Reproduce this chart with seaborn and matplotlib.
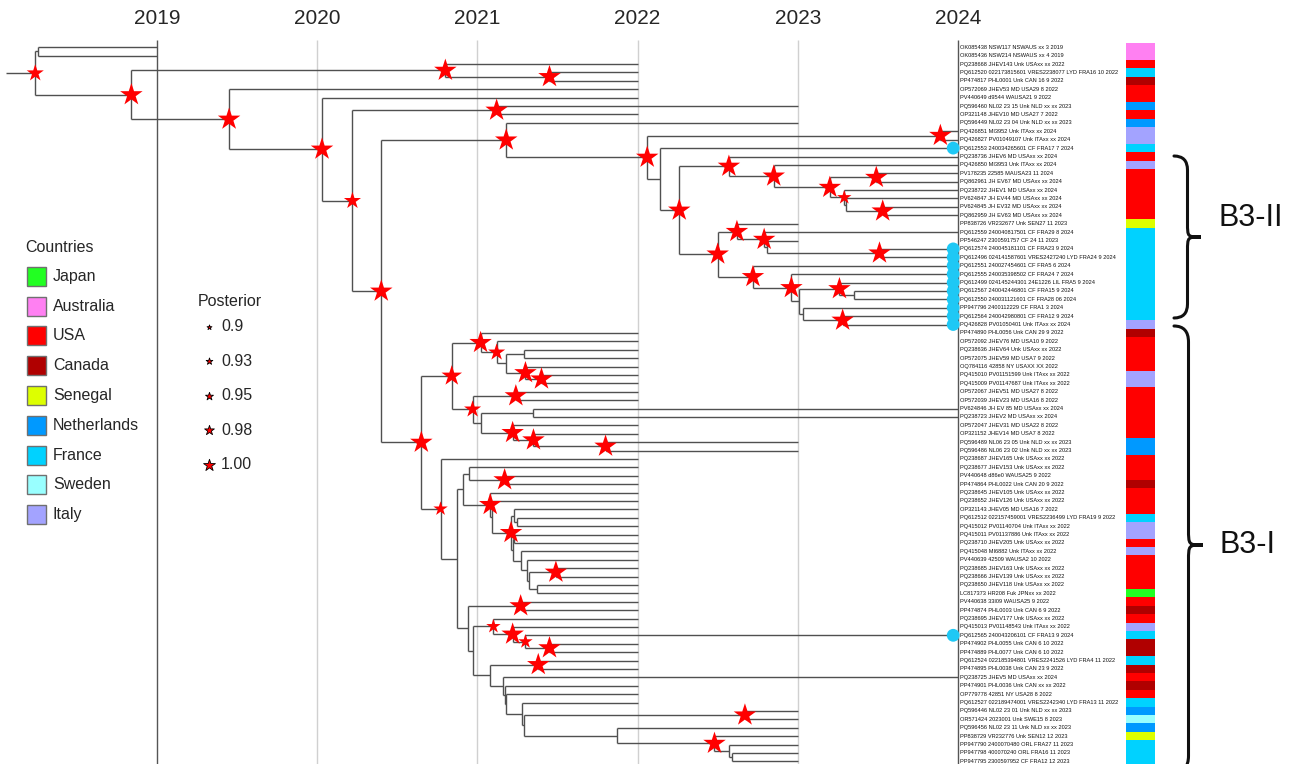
import numpy as np
import pandas as pd
import seaborn as sns
import matplotlib.pyplot as plt
from matplotlib.colors import ListedColormap
from matplotlib.collections import LineCollection
from matplotlib.patches import Rectangle, PathPatch
from matplotlib.path import Path

years = [2019, 2020, 2021, 2022, 2023, 2024]
country_names = ['Japan', 'Australia', 'USA', 'Canada', 'Senegal',
                 'Netherlands', 'France', 'Sweden', 'Italy']
country_colors = ['#22ff22', '#ff80f2', '#ff0000', '#b00000', '#ddff00',
                  '#0099ff', '#00d2ff', '#99ffff', '#a3a3ff']
posterior_levels = [0.9, 0.93, 0.95, 0.98, 1.00]
posterior_labels = ['0.9', '0.93', '0.95', '0.98', '1.00']

# internal nodes of the time tree: name, parent, date (decimal year), posterior (nan = no star)
node_names = ['root', 'AUS', 'B', 'B1', 'B1b', 'C', 'D', 'E', 'E1', 'F', 'G', 'I', 'J', 'K', 'L',
              'M', 'N', 'O', 'P', 'Q', 'Q2', 'R', 'S', 'T', 'U', 'U2', 'V', 'W', 'X', 'Y', 'Z',
              'Z2', 'AA', 'AB',
              'H', 'H1', 'H2', 'H3', 'H4', 'H5', 'H6', 'H7', 'H8', 'H8a', 'H9', 'H9a', 'H10',
              'H11', 'H12', 'H13', 'H14', 'H15', 'H17', 'H17b', 'H18', 'H18b', 'H19', 'H19a',
              'H19b', 'H19c', 'H19d', 'H19e', 'H19f', 'H19g', 'H19h', 'H19i', 'H16', 'H20',
              'H21', 'H22', 'H22a', 'H22b', 'H22c', 'H23n', 'H23s', 'H23', 'H24', 'H25', 'H26',
              'H27', 'H28', 'H29', 'H30', 'H31', 'H32']
node_parents = [None, 'root', 'root', 'B', 'B1', 'B', 'C', 'D', 'E', 'E', 'F', 'G', 'I', 'I', 'K',
                'L', 'M', 'N', 'O', 'O', 'Q', 'Q2', 'L', 'S', 'T', 'U', 'U2', 'S', 'W', 'X', 'Y',
                'Z', 'Y', 'AA',
                'F', 'H', 'H1', 'H2', 'H3', 'H4', 'H4', 'H6', 'H1', 'H8', 'H8', 'H9', 'H9',
                'H10', 'H11', 'H', 'H13', 'H14', 'H15', 'H17', 'H15', 'H18', 'H18b', 'H19',
                'H19a', 'H19', 'H19c', 'H19c', 'H19e', 'H19f', 'H19g', 'H19g', 'H14', 'H16',
                'H16', 'H21', 'H22', 'H22a', 'H22b', 'H21', 'H23n', 'H23n', 'H23', 'H24', 'H25',
                'H26', 'H27', 'H27', 'H29', 'H30', 'H31']
node_dates = [2018.24, 2018.26, 2018.84, 2020.80, 2021.45, 2019.45, 2020.03, 2020.22, 2021.12,
              2020.40, 2021.18, 2022.06, 2023.89, 2022.14, 2022.26, 2022.57, 2022.85, 2023.20,
              2023.49, 2023.29, 2023.30, 2023.53, 2022.50, 2022.62, 2022.79, 2022.81, 2023.51,
              2022.72, 2022.96, 2023.01, 2023.26, 2023.35, 2023.03, 2023.28,
              2020.65, 2020.84, 2021.02, 2021.12, 2021.18, 2021.29, 2021.30, 2021.40, 2020.97,
              2021.24, 2021.02, 2021.35, 2021.22, 2021.35, 2021.80, 2020.77, 2020.87, 2020.91,
              2020.95, 2021.17, 2021.08, 2021.09, 2021.21, 2021.23, 2021.25, 2021.22, 2021.23,
              2021.27, 2021.31, 2021.32, 2021.49, 2021.37, 2020.94, 2021.27, 2020.97, 2021.10,
              2021.22, 2021.30, 2021.45, 2021.08, 2021.38, 2021.16, 2021.17, 2021.18, 2021.28,
              2021.29, 2022.67, 2021.87, 2022.48, 2022.57, 2022.59]
nan = np.nan
node_post = [0.95, nan, 1.0, 1.0, 1.0, 1.0, 1.0, 0.95, 1.0, 1.0, 1.0, 1.0, 1.0, nan, 1.0,
             1.0, 1.0, 1.0, 1.0, 0.93, nan, 1.0, 1.0, 1.0, 1.0, nan, 1.0, 1.0, 1.0, nan, 1.0,
             nan, nan, 1.0,
             1.0, 0.98, 1.0, 0.95, nan, nan, 1.0, 1.0, 0.95, 1.0, nan, nan, 1.0,
             1.0, 1.0, 0.93, nan, nan, nan, 1.0, 1.0, nan, 1.0, nan,
             nan, nan, nan, nan, nan, nan, 1.0, nan, nan, 1.0,
             nan, 0.93, 1.0, 0.93, 1.0, nan, 1.0, nan, nan, nan, nan,
             nan, 1.0, nan, 1.0, nan, nan]
root_stem_start = 2018.06

tip_labels = [
    "OK085438 NSW117 NSWAUS xx 3 2019", "OK085436 NSW214 NSWAUS xx 4 2019",
    "PQ238668 JHEV143 Unk USAxx xx 2022", "PQ612520 022173815601 VRES2238077 LYD FRA16 10 2022",
    "PP474817 PHL0001 Unk CAN 16 9 2022", "OP572069 JHEV53 MD USA29 8 2022",
    "PV440649 d9544 WAUSA21 9 2022", "PQ596460 NL02 23 15 Unk NLD xx xx 2023",
    "OP321148 JHEV10 MD USA27 7 2022", "PQ596449 NL02 23 04 Unk NLD xx xx 2023",
    "PQ426851 MI3952 Unk ITAxx xx 2024", "PQ426827 PV01049107 Unk ITAxx xx 2024",
    "PQ612553 240034265601 CF FRA17 7 2024", "PQ238736 JHEV6 MD USAxx xx 2024",
    "PQ426850 MI3953 Unk ITAxx xx 2024", "PV178235 22585 MAUSA23 11 2024",
    "PQ862961 JH EV67 MD USAxx xx 2024", "PQ238722 JHEV1 MD USAxx xx 2024",
    "PV624847 JH EV44 MD USAxx xx 2024", "PV624845 JH EV32 MD USAxx xx 2024",
    "PQ862959 JH EV63 MD USAxx xx 2024", "PP838726 VR232677 Unk SEN27 11 2023",
    "PQ612559 240040817501 CF FRA29 8 2024", "PP546247 2300591757 CF 24 11 2023",
    "PQ612574 240045181101 CF FRA23 9 2024", "PQ612496 024141587601 VRES2427240 LYD FRA24 9 2024",
    "PQ612551 240027454601 CF FRA5 6 2024", "PQ612555 240035398502 CF FRA24 7 2024",
    "PQ612499 024145244301 24E1226 LIL FRA5 9 2024", "PQ612567 240042446801 CF FRA15 9 2024",
    "PQ612550 240031121601 CF FRA28 06 2024", "PP947796 2400112229 CF FRA1 3 2024",
    "PQ612564 240042980801 CF FRA12 9 2024", "PQ426828 PV01050401 Unk ITAxx xx 2024",
    "PP474890 PHL0056 Unk CAN 29 9 2022", "OP572092 JHEV76 MD USA10 9 2022",
    "PQ238636 JHEV64 Unk USAxx xx 2022", "OP572075 JHEV59 MD USA7 9 2022",
    "OQ784116 42858 NY USAXX XX 2022", "PQ415010 PV01151599 Unk ITAxx xx 2022",
    "PQ415009 PV01147687 Unk ITAxx xx 2022", "OP572067 JHEV51 MD USA27 8 2022",
    "OP572039 JHEV23 MD USA16 8 2022", "PV624846 JH EV 85 MD USAxx xx 2024",
    "PQ238723 JHEV2 MD USAxx xx 2024", "OP572047 JHEV31 MD USA22 8 2022",
    "OP321152 JHEV14 MD USA7 8 2022", "PQ596489 NL06 23 05 Unk NLD xx xx 2023",
    "PQ596486 NL06 23 02 Unk NLD xx xx 2023", "PQ238687 JHEV165 Unk USAxx xx 2022",
    "PQ238677 JHEV153 Unk USAxx xx 2022", "PV440648 d86e0 WAUSA25 9 2022",
    "PP474864 PHL0022 Unk CAN 20 9 2022", "PQ238645 JHEV105 Unk USAxx xx 2022",
    "PQ238652 JHEV126 Unk USAxx xx 2022", "OP321143 JHEV05 MD USA16 7 2022",
    "PQ612512 022157459001 VRES2236499 LYD FRA19 9 2022", "PQ415012 PV01140704 Unk ITAxx xx 2022",
    "PQ415011 PV01137886 Unk ITAxx xx 2022", "PQ238710 JHEV205 Unk USAxx xx 2022",
    "PQ415048 MI6882 Unk ITAxx xx 2022", "PV440639 42509 WAUSA2 10 2022",
    "PQ238685 JHEV163 Unk USAxx xx 2022", "PQ238666 JHEV139 Unk USAxx xx 2022",
    "PQ238650 JHEV118 Unk USAxx xx 2022", "LC817373 HR208 Fuk JPNxx xx 2022",
    "PV440638 33I09 WAUSA25 9 2022", "PP474874 PHL0003 Unk CAN 6 9 2022",
    "PQ238695 JHEV177 Unk USAxx xx 2022", "PQ415013 PV01148543 Unk ITAxx xx 2022",
    "PQ612565 240043206101 CF FRA13 9 2024", "PP474902 PHL0055 Unk CAN 6 10 2022",
    "PP474889 PHL0077 Unk CAN 6 10 2022", "PQ612524 022185394801 VRES2241526 LYD FRA4 11 2022",
    "PP474895 PHL0038 Unk CAN 23 9 2022", "PQ238725 JHEV5 MD USAxx xx 2024",
    "PP474901 PHL0036 Unk CAN xx xx 2022", "OP779778 42851 NY USA28 8 2022",
    "PQ612527 022189474001 VRES2242340 LYD FRA13 11 2022", "PQ596446 NL02 23 01 Unk NLD xx xx 2023",
    "OR571424 2023001 Unk SWE15 8 2023", "PQ596456 NL02 23 11 Unk NLD xx xx 2023",
    "PP838729 VR232776 Unk SEN12 12 2023", "PP947790 2400070480 ORL FRA27 11 2023",
    "PP947798 400070240 ORL FRA16 11 2023", "PP947795 2300597952 CF FRA12 12 2023",
]
tip_parents = ['AUS', 'AUS', 'B1', 'B1b', 'B1b', 'C', 'D', 'E1', 'E1', 'G',
               'J', 'J', 'K', 'M', 'N', 'P', 'P', 'Q', 'Q2', 'R',
               'R', 'T', 'U', 'U2', 'V', 'V', 'W', 'X', 'Z', 'Z2',
               'Z2', 'AA', 'AB', 'AB', 'H2', 'H3', 'H5', 'H5', 'H6', 'H7',
               'H7', 'H8a', 'H8a', 'H9a', 'H9a', 'H10', 'H11', 'H12', 'H12', 'H13',
               'H17', 'H17b', 'H17b', 'H18', 'H18b', 'H19a', 'H19b', 'H19b', 'H19d', 'H19d',
               'H19e', 'H19f', 'H19h', 'H19h', 'H19i', 'H19i', 'H20', 'H20', 'H22', 'H22a',
               'H22b', 'H22c', 'H22c', 'H23s', 'H23s', 'H23', 'H24', 'H25', 'H26', 'H28',
               'H28', 'H29', 'H30', 'H31', 'H32', 'H32']
tip_countries = (['Australia'] * 2 + ['USA', 'France', 'Canada', 'USA', 'USA', 'Netherlands',
                 'USA', 'Netherlands', 'Italy', 'Italy', 'France', 'USA', 'Italy'] + ['USA'] * 6
                 + ['Senegal'] + ['France'] * 11 + ['Italy', 'Canada'] + ['USA'] * 4
                 + ['Italy'] * 2 + ['USA'] * 6 + ['Netherlands'] * 2 + ['USA'] * 3
                 + ['Canada'] + ['USA'] * 3 + ['France', 'Italy', 'Italy', 'USA', 'Italy']
                 + ['USA'] * 4 + ['Japan', 'USA', 'Canada', 'USA', 'Italy', 'France', 'Canada',
                 'Canada', 'France', 'Canada', 'USA', 'Canada', 'USA', 'France', 'Netherlands',
                 'Sweden', 'Netherlands', 'Senegal', 'France', 'France', 'France'])
circle_rows = [13, 25, 26, 27, 28, 29, 30, 31, 32, 33, 34, 71]
clades = ['B3-II', 'B3-I']

# ---- tree layout (rectangular, y = tip order) ----
date = dict(zip(node_names, node_dates))
parent = dict(zip(node_names, node_parents))
tip_keys = [f'tip{i}' for i in range(len(tip_labels))]
for k, lab, p in zip(tip_keys, tip_labels, tip_parents):
    date[k] = float(lab.split()[-1])
    parent[k] = p
ypos = {k: i + 1 for i, k in enumerate(tip_keys)}
kids = {}
for k, p in parent.items():
    if p is not None:
        kids.setdefault(p, []).append(k)


def get_y(n):
    if n not in ypos:
        ys = [get_y(c) for c in kids[n]]
        ypos[n] = (min(ys) + max(ys)) / 2
    return ypos[n]


get_y('root')

W, H = 1292, 764
sns.set_style('white')
plt.rcParams['font.family'] = ['Liberation Sans', 'DejaVu Sans']
fig = plt.figure(figsize=(W / 100, H / 100), dpi=100)

# pixel mapping: 2019 at x=157, 160.2 px per year; row 1 at y=47.3, 8.4 px per row
px_per_year, x2019 = 160.2, 157
row1, row_h = 47.3, 8.4
ax = fig.add_axes([0, 0, 1, 1])
ax.set_xlim(2019 - x2019 / px_per_year, 2019 + (W - x2019) / px_per_year)
ax.set_ylim(1 + (H - row1) / row_h, 1 - row1 / row_h)
ax.axis('off')

grid_colors = ['#555555' if yr in (years[0], years[-1]) else '#d0d0d0' for yr in years]
ax.vlines(years, 1 + (40 - row1) / row_h, 1 + (H - row1) / row_h, colors=grid_colors,
          linewidth=1.0, zorder=0)
for yr in years:
    ax.text(yr, 1 + (18 - row1) / row_h, str(yr), ha='center', va='center', fontsize=15)

segs = []
for k, p in parent.items():
    start = root_stem_start if p is None else date[p]
    segs.append([(start, ypos[k]), (date[k], ypos[k])])
for n, cs in kids.items():
    ys = [ypos[c] for c in cs]
    segs.append([(date[n], min(ys)), (date[n], max(ys))])
ax.add_collection(LineCollection(segs, colors='#505050', linewidths=1.0, zorder=1))

stars = pd.DataFrame({'date': node_dates, 'y': [ypos[n] for n in node_names],
                      'posterior': node_post}).dropna()
sns.scatterplot(data=stars, x='date', y='y', size='posterior', sizes=(45, 290),
                size_norm=(0.9, 1.0), marker='*', color='#ff0000', edgecolor='none',
                linewidth=0, legend=False, ax=ax, zorder=3)

circ = pd.DataFrame({'date': [date[tip_keys[r - 1]] - 0.03 for r in circle_rows],
                     'y': circle_rows})
sns.scatterplot(data=circ, x='date', y='y', s=85, color='#1ec8f5', edgecolor='none',
                legend=False, ax=ax, zorder=3)
ax.set_xlabel('')
ax.set_ylabel('')

label_x = 2019 + (960 - x2019) / px_per_year
for k, lab in zip(tip_keys, tip_labels):
    ax.text(label_x, ypos[k], lab, fontsize=4.1, va='center', ha='left', color='#111111')

# ---- country strip ----
n_tips = len(tip_labels)
strip_top = row1 - row_h / 2
sax = fig.add_axes([1126 / W, 1 - (strip_top + n_tips * row_h) / H, 29 / W, n_tips * row_h / H])
codes = np.array([country_names.index(c) for c in tip_countries]).reshape(-1, 1)
sns.heatmap(codes, cmap=ListedColormap(country_colors), vmin=-0.5,
            vmax=len(country_names) - 0.5, cbar=False, xticklabels=False,
            yticklabels=False, ax=sax)
sax.axis('off')

# ---- legends, braces (pixel coordinates) ----
dax = fig.add_axes([0, 0, 1, 1])
dax.set_xlim(0, W)
dax.set_ylim(H, 0)
dax.axis('off')
dax.patch.set_alpha(0)

dax.text(25, 247, 'Countries', fontsize=11.5, va='center', ha='left')
for i, (name, col) in enumerate(zip(country_names, country_colors)):
    yc = 276.3 + i * 29.8
    dax.add_patch(Rectangle((26.5, yc - 9.5), 19.5, 19, facecolor=col, edgecolor='#707070',
                            linewidth=1.0))
    dax.text(53, yc, name, fontsize=11.5, va='center', ha='left')

dax.text(198, 302, 'Posterior', fontsize=11.5, va='center', ha='left')
leg_sizes = [14, 26, 36, 55, 80]
for i, (lev, lab, s) in enumerate(zip(posterior_levels, posterior_labels, leg_sizes)):
    yc = 326.5 + i * 34.6
    dax.scatter([208.5], [yc], s=s, marker='*', color='#ff0000', edgecolors='black',
                linewidths=0.6)
    dax.text(221, yc, lab, fontsize=11.5, va='center', ha='left')


def brace(x0, y0, y1, w, r, ym):
    xm = x0 + w / 2
    verts = [(x0, y0), (xm, y0), (xm, y0 + r), (xm, ym - r), (xm, ym), (xm, ym), (x0 + w, ym),
             (xm, ym), (xm, ym), (xm, ym + r), (xm, y1 - r), (xm, y1), (x0, y1)]
    codes_ = [Path.MOVETO, Path.CURVE3, Path.CURVE3, Path.LINETO, Path.CURVE4, Path.CURVE4,
              Path.CURVE4, Path.CURVE4, Path.CURVE4, Path.CURVE4, Path.LINETO, Path.CURVE3,
              Path.CURVE3]
    dax.add_patch(PathPatch(Path(verts, codes_), facecolor='none', edgecolor='#111111',
                            linewidth=2.2, capstyle='round'))


brace(1174, 156, 318, 27, 14, 237)
brace(1174, 326, 772, 29, 16, 545)
dax.text(1251, 218, clades[0], fontsize=22, ha='center', va='center', color='#111111')
dax.text(1248, 545, clades[1], fontsize=22, ha='center', va='center', color='#111111')

fig.savefig('out.png', dpi=100)
